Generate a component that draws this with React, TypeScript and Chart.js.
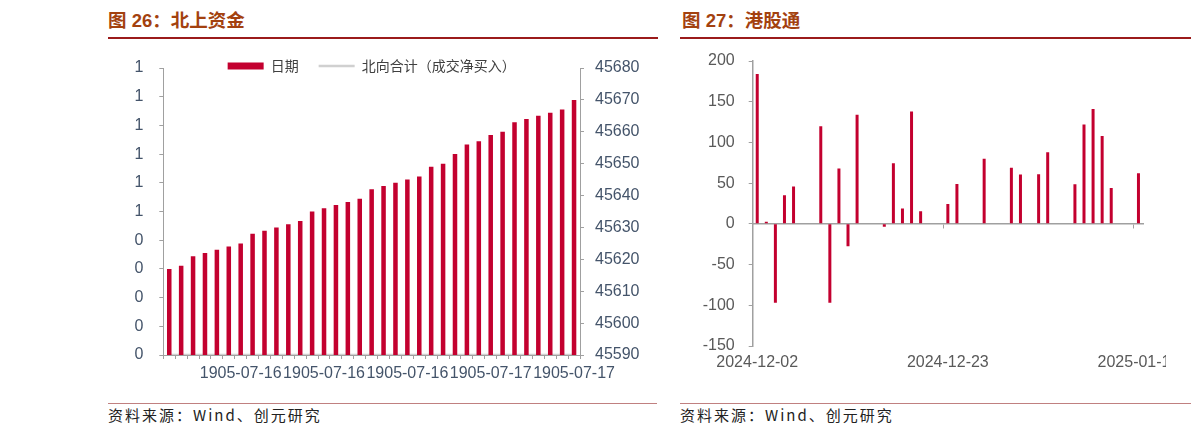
import React, { useEffect, useRef } from 'react';
import { Chart, registerables } from 'chart.js';

Chart.register(...registerables);

// ---- 图 26：北上资金 ----
// category labels as the source shows them (year values formatted as dates)
const northCategories = [
  '1905-07-16', '1905-07-16', '1905-07-16', '1905-07-16', '1905-07-16', '1905-07-16', '1905-07-16',
  '1905-07-16', '1905-07-16', '1905-07-16', '1905-07-16', '1905-07-16', '1905-07-16', '1905-07-16',
  '1905-07-16', '1905-07-16', '1905-07-16', '1905-07-16', '1905-07-16', '1905-07-16', '1905-07-16',
  '1905-07-16', '1905-07-16', '1905-07-16', '1905-07-16', '1905-07-16', '1905-07-16',
  '1905-07-17', '1905-07-17', '1905-07-17', '1905-07-17', '1905-07-17', '1905-07-17', '1905-07-17',
  '1905-07-17',
];
// "日期" series (date serial numbers), right axis
const northDateSerials = [
  45617, 45618, 45621, 45622, 45623, 45624, 45625, 45628, 45629, 45630, 45631, 45632,
  45635, 45636, 45637, 45638, 45639, 45642, 45643, 45644, 45645, 45646, 45649, 45650,
  45653, 45656, 45657, 45659, 45660, 45663, 45664, 45665, 45666, 45667, 45670,
];
// "北向合计（成交净买入）" series, left axis
const northNetBuy = [
  0, 0, 0, 0, 0, 0, 0, 0, 0, 0, 0, 0, 0, 0, 0, 0, 0, 0,
  0, 0, 0, 0, 0, 0, 0, 0, 0, 0, 0, 0, 0, 0, 0, 0, 0,
];
const northLabelEvery = 7;
const northLabelStart = 6;

// ---- 图 27：港股通 ----
const hkDays = [
  '2024-12-02', '2024-12-03', '2024-12-04', '2024-12-05', '2024-12-06', '2024-12-07', '2024-12-08',
  '2024-12-09', '2024-12-10', '2024-12-11', '2024-12-12', '2024-12-13', '2024-12-14', '2024-12-15',
  '2024-12-16', '2024-12-17', '2024-12-18', '2024-12-19', '2024-12-20', '2024-12-21', '2024-12-22',
  '2024-12-23', '2024-12-24', '2024-12-25', '2024-12-26', '2024-12-27', '2024-12-28', '2024-12-29',
  '2024-12-30', '2024-12-31', '2025-01-01', '2025-01-02', '2025-01-03', '2025-01-04', '2025-01-05',
  '2025-01-06', '2025-01-07', '2025-01-08', '2025-01-09', '2025-01-10', '2025-01-11', '2025-01-12',
  '2025-01-13',
];
const hkNetBuy = [
  184, 2.5, -97, 35, 46, null, null,
  120, -97, 68, -27.5, 134, null, null,
  -3.7, 74.5, 19, 138, 15.5, null, null,
  24.5, 49, null, null, 80, null, null,
  69, 60.5, null, 61, 88, null, null,
  48.5, 122, 141, 108, 44, null, null,
  62,
];
const hkTickDays = ['2024-12-02', '2024-12-23', '2025-01-13'];

const RED = '#C3002F';
const AXIS = '#A0A0A0';
const NUM_FONT = '"Liberation Sans", Arial, sans-serif';
const CJK_FONT = '"Noto Sans CJK SC", sans-serif';

// the legend sits partly over the plot top; keep its clip box from cutting the text
const legendUnclip = {
  id: 'legendUnclip',
  afterLayout(chart: any) {
    if (chart.legend) {
      chart.legend.bottom += 20;
      chart.legend.height += 20;
    }
  },
};

const NorthChart: React.FC = () => {
  const ref = useRef<HTMLCanvasElement>(null);
  useEffect(() => {
    if (!ref.current) return;
    const chart = new Chart(ref.current, {
      type: 'bar',
      data: {
        labels: northCategories,
        datasets: [
          {
            type: 'bar',
            label: '日期',
            data: northDateSerials,
            backgroundColor: RED,
            borderWidth: 0,
            barPercentage: 0.38,
            categoryPercentage: 1,
            yAxisID: 'y1',
          },
          {
            type: 'line',
            label: '北向合计（成交净买入）',
            data: northNetBuy,
            borderColor: '#D0D0D0',
            backgroundColor: '#D0D0D0',
            borderWidth: 2.5,
            pointRadius: 0,
            yAxisID: 'y',
          },
        ] as any,
      },
      plugins: [legendUnclip],
      options: {
        animation: false,
        responsive: true,
        maintainAspectRatio: false,
        layout: { padding: 0 },
        plugins: {
          tooltip: { enabled: false },
          legend: {
            position: 'top',
            fullSize: false,
            maxHeight: 29,
            labels: {
              usePointStyle: true,
              pointStyleWidth: 36,
              boxHeight: 7,
              padding: 20,
              color: '#404040',
              font: { family: CJK_FONT, size: 14 },
              generateLabels: (c: Chart) => {
                const items = Chart.defaults.plugins.legend.labels.generateLabels(c);
                return items
                  .sort((a: any, b: any) => a.datasetIndex - b.datasetIndex)
                  .map((it: any) => ({
                    ...it,
                    pointStyle: it.datasetIndex === 0 ? 'rect' : 'line',
                    lineWidth: it.datasetIndex === 0 ? 0 : 2.5,
                  }));
              },
            },
          },
        },
        scales: {
          x: {
            grid: { display: true, drawOnChartArea: false, drawTicks: true, tickLength: 4, color: AXIS, offset: true },
            border: { display: true, color: AXIS, width: 1 },
            ticks: {
              autoSkip: false,
              maxRotation: 0,
              minRotation: 0,
              padding: 5,
              color: '#44546A',
              font: { family: NUM_FONT, size: 16 },
              callback: (_v: any, i: number) =>
                i % northLabelEvery === northLabelStart ? northCategories[i] : '',
            },
            afterFit: (s: any) => { s.height = 40; },
          },
          y: {
            position: 'left',
            min: 0,
            max: 1,
            grid: { drawOnChartArea: false, drawTicks: true, tickLength: 4, color: AXIS },
            border: { display: true, color: AXIS, width: 1 },
            ticks: {
              stepSize: 0.1,
              padding: 16,
              color: '#44546A',
              font: { family: NUM_FONT, size: 16 },
              callback: (v: any) => String(Math.round(Number(v))),
            },
            afterFit: (s: any) => { s.width = 55.3; },
          },
          y1: {
            position: 'right',
            min: 45590,
            max: 45680,
            grid: { drawOnChartArea: false, drawTicks: true, tickLength: 4, color: AXIS },
            border: { display: true, color: AXIS, width: 1 },
            ticks: {
              stepSize: 10,
              padding: 11,
              color: '#44546A',
              font: { family: NUM_FONT, size: 16 },
              callback: (v: any) => String(v),
            },
            afterFit: (s: any) => { s.width = 78; },
          },
        },
      } as any,
    });
    return () => chart.destroy();
  }, []);
  return <canvas ref={ref} />;
};

const HkChart: React.FC = () => {
  const ref = useRef<HTMLCanvasElement>(null);
  useEffect(() => {
    if (!ref.current) return;
    const isTickDay = (i: number) => hkTickDays.includes(hkDays[i]);
    const chart = new Chart(ref.current, {
      type: 'bar',
      data: {
        labels: hkDays,
        datasets: [
          {
            label: '港股通',
            data: hkNetBuy,
            backgroundColor: RED,
            borderWidth: 0,
            barPercentage: 0.33,
            categoryPercentage: 1,
            xAxisID: 'x',
            yAxisID: 'y',
          },
        ],
      },
      options: {
        animation: false,
        responsive: true,
        maintainAspectRatio: false,
        layout: { padding: { top: 24, right: 48, left: 0, bottom: 0 } },
        plugins: { legend: { display: false }, tooltip: { enabled: false } },
        scales: {
          x: {
            position: 'bottom',
            grid: { display: false, drawTicks: false },
            border: { display: false },
            ticks: {
              autoSkip: false,
              maxRotation: 0,
              minRotation: 0,
              padding: 7,
              color: '#595959',
              font: { family: NUM_FONT, size: 16 },
              callback: (_v: any, i: number) => (isTickDay(i) ? hkDays[i] : ''),
            },
            afterFit: (s: any) => { s.height = 40; },
          },
          // zero line with its own tick marks
          x0: {
            type: 'category',
            position: { y: 0 },
            grid: {
              display: true,
              drawOnChartArea: false,
              drawTicks: true,
              tickLength: 4,
              offset: true,
              tickColor: (ctx: any) => (isTickDay(ctx.index) ? AXIS : 'rgba(0,0,0,0)'),
            },
            border: { display: true, color: AXIS, width: 1.5 },
            ticks: { display: false, autoSkip: false },
            afterFit: (s: any) => { s.height = 0; },
          },
          y: {
            min: -150,
            max: 200,
            grid: { drawOnChartArea: false, drawTicks: true, tickLength: 4, color: AXIS },
            border: { display: true, color: AXIS, width: 1.5 },
            ticks: {
              stepSize: 50,
              padding: 14,
              color: '#595959',
              font: { family: NUM_FONT, size: 16 },
            },
            afterFit: (s: any) => { s.width = 72.7; },
          },
        },
      } as any,
    });
    return () => chart.destroy();
  }, []);
  return <canvas ref={ref} />;
};

const titleStyle: React.CSSProperties = {
  position: 'absolute',
  top: 9,
  fontFamily: '"Liberation Sans", "Noto Sans CJK SC", sans-serif',
  fontWeight: 'bold',
  fontSize: 18.5,
  lineHeight: '24px',
  color: '#A3410F',
  whiteSpace: 'nowrap',
};

const sourceStyle: React.CSSProperties = {
  position: 'absolute',
  top: 405,
  fontFamily: CJK_FONT,
  fontSize: 15,
  lineHeight: '20px',
  letterSpacing: 2,
  color: '#222',
  whiteSpace: 'nowrap',
};

const App: React.FC = () => (
  <div
    style={{
      position: 'absolute',
      left: 0,
      top: 0,
      width: 1191,
      height: 434,
      overflow: 'hidden',
      background: '#fff',
    }}
  >
    <div style={{ ...titleStyle, left: 108 }}>图 26：北上资金</div>
    <div style={{ position: 'absolute', left: 108, top: 37, width: 550, height: 2, background: '#9B1B1B' }} />
    <div style={{ position: 'absolute', left: 108, top: 39, width: 550, height: 356 }}>
      <NorthChart />
    </div>
    <div style={{ position: 'absolute', left: 108, top: 403, width: 549, height: 1, background: '#C08080' }} />
    <div style={{ ...sourceStyle, left: 108 }}>资料来源：Wind、创元研究</div>

    <div style={{ ...titleStyle, left: 682 }}>图 27：港股通</div>
    <div style={{ position: 'absolute', left: 680, top: 37, width: 511, height: 2, background: '#9B1B1B' }} />
    <div style={{ position: 'absolute', left: 680, top: 37, width: 486, height: 349, overflow: 'hidden' }}>
      <div style={{ position: 'relative', width: 511, height: 349 }}>
        <HkChart />
      </div>
    </div>
    <div style={{ position: 'absolute', left: 680, top: 403, width: 511, height: 1, background: '#C08080' }} />
    <div style={{ ...sourceStyle, left: 680 }}>资料来源：Wind、创元研究</div>
  </div>
);

export default App;
